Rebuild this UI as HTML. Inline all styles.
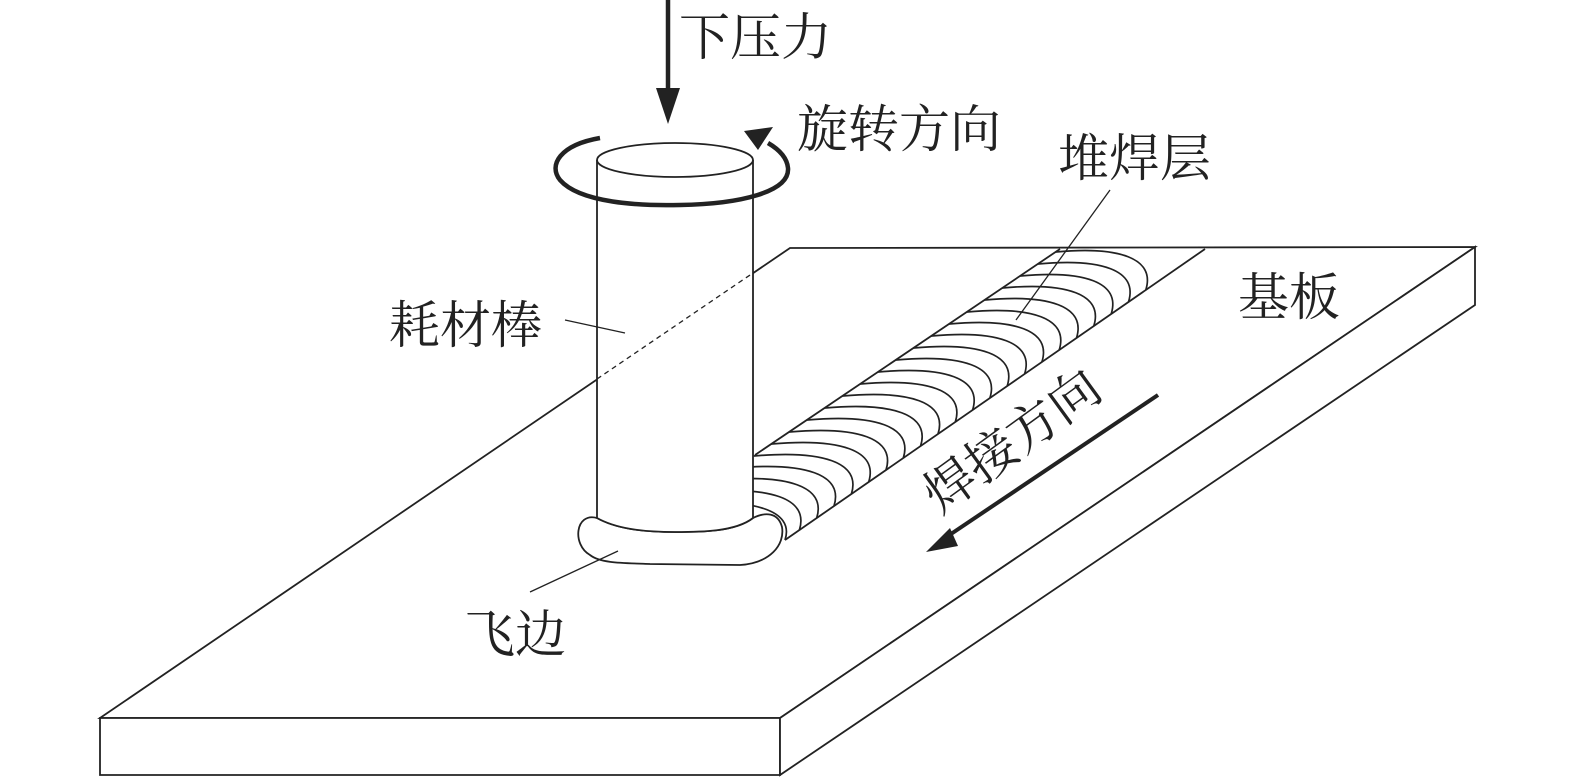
<!DOCTYPE html>
<html><head><meta charset="utf-8"><style>
html,body{margin:0;padding:0;background:#fff;}
svg{display:block}
text{font-family:"Liberation Serif","Noto Serif CJK SC",serif;fill:#222;}
</style></head><body>
<svg width="1575" height="778" viewBox="0 0 1575 778" xmlns="http://www.w3.org/2000/svg">
<g stroke="#222" fill="none" stroke-width="1.8">
<polygon points="100,718 790,248 1475,247 780,718" fill="#fff"/>
<polygon points="100,718 780,718 780,775 100,775" fill="#fff"/>
<polygon points="780,718 1475,247 1475,305 780,775" fill="#fff"/>
<line x1="1060" y1="249" x2="755" y2="455"/>
<line x1="1205" y1="249" x2="785" y2="540"/>
<g stroke-width="1.7">
<path d="M1055.6,252 C1118.7,246 1155.8,258 1145.8,290"/>
<path d="M1037.8,264 C1101,258 1138.5,270 1128.5,302"/>
<path d="M1020.1,276 C1083.8,270 1121.2,282 1111.2,314"/>
<path d="M1002.3,288 C1066.3,282 1103.8,294 1093.8,326"/>
<path d="M984.6,300 C1048.6,294 1086.5,306 1076.5,338"/>
<path d="M966.8,312 C1031.3,306 1069.2,318 1059.2,350"/>
<path d="M949,324 C1014,318 1051.9,330 1041.9,362"/>
<path d="M931.3,336 C996.7,330 1034.6,342 1024.6,374"/>
<path d="M913.5,348 C979.1,342 1017.2,354 1007.2,386"/>
<path d="M895.8,360 C961.7,354 999.9,366 989.9,398"/>
<path d="M878,372 C944.4,366 982.6,378 972.6,410"/>
<path d="M860.2,384 C927,378 965.3,390 955.3,422"/>
<path d="M842.5,396 C909.6,390 948,402 938,434"/>
<path d="M824.7,408 C892,402 930.6,414 920.6,446"/>
<path d="M807,420 C874.5,414 913.3,426 903.3,458"/>
<path d="M789.2,432 C857,426 896,438 886,470"/>
<path d="M771.4,444 C839.5,438 878.7,450 868.7,482"/>
<path d="M753.7,456 C822,450 861.4,462 851.4,494"/>
<path d="M735.9,468 C804.5,462 844,474 834,506"/>
<path d="M718.2,480 C787,474 826.7,486 816.7,518"/>
<path d="M700.4,492 C769.5,486 809.4,498 799.4,530"/>
<path d="M682.6,504 C752,498 795,510 785,540"/>
</g>
</g>
<g stroke="#222" fill="none" stroke-width="1.8">
<path d="M597,518 C575,512 572,545 590,555 C600,563 620,563 650,564 L740,565 C770,563 785,545 782,527 C778,512 765,512 753,518 C735,532 700,532 675,532 C640,532 615,528 597,518 Z" fill="#fff"/>
<path d="M597,160 L597,518 C615,528 640,532 675,532 C700,532 735,532 753,518 L753,160" fill="#fff"/>
<ellipse cx="675" cy="160" rx="78" ry="17" fill="#fff"/>
<line x1="597" y1="379" x2="753" y2="273" stroke-dasharray="5,4" stroke-width="1.3"/>
<path d="M600,138 C560,145 548,165 560,180 C580,203 640,206 680,205 C740,204 790,192 788,168 C787,158 780,150 768,143" stroke-width="4.5"/>
<polygon points="744,131 773,127 758,150" fill="#222" stroke="none"/>
<line x1="668" y1="0" x2="668" y2="92" stroke-width="4.5"/>
<polygon points="656,88 680,88 668,124" fill="#222" stroke="none"/>
<line x1="1158" y1="395" x2="945" y2="538" stroke-width="4"/>
<polygon points="926,552 950,528 958,546" fill="#222" stroke="none"/>
<line x1="565" y1="320" x2="625" y2="333" stroke-width="1.3"/>
<line x1="1110" y1="190" x2="1016" y2="320" stroke-width="1.3"/>
<line x1="530" y1="592" x2="618" y2="551" stroke-width="1.3"/>
</g>
<g font-size="51">
<text x="679" y="55">下压力</text>
<text x="797" y="147">旋转方向</text>
<text x="1058" y="176">堆焊层</text>
<text x="1238" y="315">基板</text>
<text x="389" y="343">耗材棒</text>
<text x="464" y="652">飞边</text>
<text x="0" y="0" transform="translate(940,515) rotate(-36)">焊接方向</text>
</g>
</svg>
</body></html>
